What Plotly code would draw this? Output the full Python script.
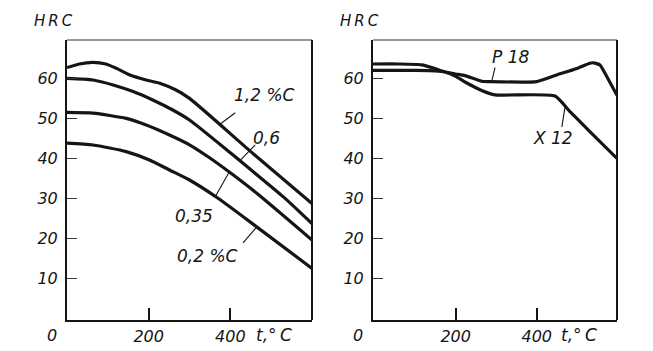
import plotly.graph_objects as go

# ---------------- data ----------------
# Left panel: carbon steels, HRC vs tempering temperature
temp_c12 = [0, 30, 64, 95, 121, 154, 194, 227, 267, 300, 450, 600]
hrc_c12 = [62.6, 63.5, 63.9, 63.5, 62.4, 60.75, 59.5, 58.7, 57.0, 54.9, 41.6, 28.6]
temp_c06 = [0, 64, 113, 162, 210, 259, 300, 400, 451, 532, 600]
hrc_c06 = [59.9, 59.5, 58.25, 56.6, 54.5, 52.0, 49.5, 41.3, 37.0, 30.1, 23.6]
temp_c035 = [0, 64, 145, 194, 251, 300, 350, 400, 467, 600]
hrc_c035 = [51.4, 51.2, 49.9, 48.25, 45.75, 43.3, 40.0, 36.3, 31.0, 19.5]
temp_c02 = [0, 64, 145, 202, 251, 300, 369, 467, 600]
hrc_c02 = [43.7, 43.25, 41.6, 39.5, 37.0, 34.5, 30.0, 22.6, 12.4]

# Right panel: alloy tool steels
temp_p18 = [-4, 60, 116, 145, 174, 200, 223, 264, 285, 400, 449, 499, 531, 540, 556, 573, 598]
hrc_p18 = [63.5, 63.5, 63.3, 62.5, 61.5, 61.0, 60.6, 59.2, 59.1, 59.1, 60.75, 62.4, 63.7, 63.8, 63.25, 60.3, 55.7]
temp_x12 = [-4, 100, 150, 174, 200, 223, 264, 297, 445, 482, 531, 598]
hrc_x12 = [61.9, 61.9, 61.8, 61.5, 60.4, 59.0, 56.9, 55.8, 55.5, 51.6, 46.6, 39.9]

y_ticks = [10, 20, 30, 40, 50, 60]
x_ticks = [200, 400]
y_title = "H\u2009R\u2009C"
x_title = "t,\u00b0\u2009C"
origin_label = "0"

# curve labels: (text, text x, text y, leader from (x,y) to (x,y)), in data units
labels_left = [
    ("1,2 %C", 483, 55.8, 412, 51.3, 373, 48.3),
    ("0,6", 488, 45.0, 461, 43.3, 424, 39.4),
    ("0,35", 311, 25.5, 364, 30.5, 398, 36.6),
    ("0,2 %C", 343, 15.5, 431, 18.8, 465, 22.8),
]
labels_right = [
    ("P 18", 334, 65.3, 297, 62.6, 289, 59.2),
    ("X 12", 440, 45.0, 462, 47.8, 470, 52.9),
]

# ---------------- figure ----------------
INK = "#151515"
FONT = "DejaVu Sans, Liberation Sans, sans-serif"

fig = go.Figure()

for xs, ys in [(temp_c12, hrc_c12), (temp_c06, hrc_c06), (temp_c035, hrc_c035), (temp_c02, hrc_c02)]:
    fig.add_trace(go.Scatter(x=xs, y=ys, mode="lines", xaxis="x", yaxis="y",
                             line=dict(color=INK, width=3.2, shape="spline", smoothing=0.6),
                             hoverinfo="skip", showlegend=False))
for xs, ys in [(temp_p18, hrc_p18), (temp_x12, hrc_x12)]:
    fig.add_trace(go.Scatter(x=xs, y=ys, mode="lines", xaxis="x2", yaxis="y2",
                             line=dict(color=INK, width=3.2, shape="spline", smoothing=0.5),
                             hoverinfo="skip", showlegend=False))

W, H = 653, 351
left_dom = [67 / W, 312 / W]
right_dom = [373 / W, 617 / W]
y_dom = [(H - 320) / H, (H - 40) / H]

tickfont = dict(family=FONT, size=16, color=INK, style="italic")

def xaxis(dom, rng, anchor):
    return dict(domain=dom, range=rng, anchor=anchor, showgrid=False, zeroline=False,
                showline=True, linecolor=INK, linewidth=2, mirror=False,
                ticks="inside", ticklen=12, tickwidth=1.5, tickcolor=INK,
                tickvals=x_ticks, ticktext=[str(v) for v in x_ticks],
                tickfont=tickfont, ticklabelstandoff=1, fixedrange=True)

def yaxis(dom, anchor):
    return dict(domain=dom, range=[-0.5, 69.5], anchor=anchor, showgrid=False, zeroline=False,
                showline=True, linecolor=INK, linewidth=2, mirror=False,
                ticks="inside", ticklen=10, tickwidth=1.2, tickcolor="#333",
                tickvals=y_ticks, ticktext=[str(v) for v in y_ticks],
                tickfont=tickfont, ticklabelstandoff=4, fixedrange=True)

fig.update_layout(
    width=W, height=H, margin=dict(l=0, r=0, t=0, b=0),
    paper_bgcolor="white", plot_bgcolor="white",
    font=dict(family=FONT, size=16, color=INK, style="italic"),
    xaxis=xaxis(left_dom, [0, 600], "y"),
    yaxis=yaxis(y_dom, "x"),
    xaxis2=xaxis(right_dom, [-4, 598], "y2"),
    yaxis2=yaxis(y_dom, "x2"),
    showlegend=False,
)

# frame: top (thin, grey) and right (dark) sides
for xr, yr in [("x", "y"), ("x2", "y2")]:
    fig.add_shape(type="line", xref=f"{xr} domain", yref=f"{yr} domain",
                  x0=0, x1=1, y0=1, y1=1, line=dict(color="#777", width=1.3))
    fig.add_shape(type="line", xref=f"{xr} domain", yref=f"{yr} domain",
                  x0=1, x1=1, y0=0, y1=1, line=dict(color=INK, width=2))

lab_font = dict(family=FONT, size=17, color=INK, style="italic")
title_font = dict(family=FONT, size=15, color=INK, style="italic")

for xr, yr, labs in [("x", "y", labels_left), ("x2", "y2", labels_right)]:
    for text, tx, ty, lx0, ly0, lx1, ly1 in labs:
        fig.add_annotation(x=tx, y=ty, xref=xr, yref=yr, text=text, showarrow=False,
                           font=lab_font, xanchor="center", yanchor="middle")
        fig.add_shape(type="line", xref=xr, yref=yr, x0=lx0, y0=ly0, x1=lx1, y1=ly1,
                      line=dict(color=INK, width=1.1))
    # axis titles and origin label
    fig.add_annotation(x=0, y=1, xref=f"{xr} domain", yref=f"{yr} domain", text=y_title,
                       showarrow=False, font=title_font, xanchor="center", yanchor="bottom",
                       xshift=-14, yshift=8)
    fig.add_annotation(x=1, y=0, xref=f"{xr} domain", yref=f"{yr} domain", text=x_title,
                       showarrow=False, font=lab_font, xanchor="right", yanchor="top",
                       xshift=-18, yshift=-3)
    fig.add_annotation(x=0, y=0, xref=f"{xr} domain", yref=f"{yr} domain", text=origin_label,
                       showarrow=False, font=tickfont, xanchor="center", yanchor="top",
                       xshift=-15, yshift=-4)

fig.write_html("out.html")
